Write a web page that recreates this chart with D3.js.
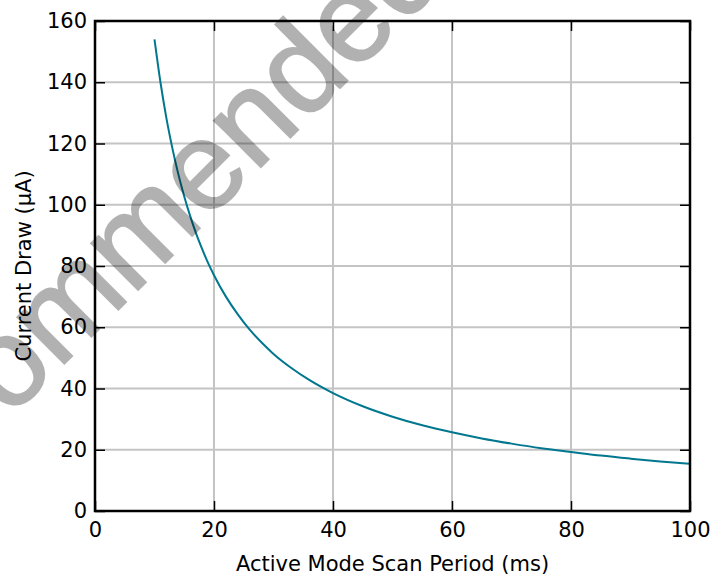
<!DOCTYPE html>
<html>
<head>
<meta charset="utf-8">
<script src="https://cdn.jsdelivr.net/npm/d3@7"></script>
<style>
  html, body { margin: 0; padding: 0; background: #fff; }
  svg { display: block; font-family: "DejaVu Sans", sans-serif; }
</style>
</head>
<body>
<svg id="chart" width="714" height="578"></svg>
<script>
// ---- data ----
const scanPeriod = [10, 11, 12, 13, 14, 15, 16, 17, 18, 19, 20, 22, 24, 26, 28, 30, 33, 36, 40, 45, 50, 55, 60, 65, 70, 75, 80, 85, 90, 95, 100];
const currentDraw = [154, 140, 128.3, 118.5, 110, 102.7, 96.3, 90.6, 85.6, 81, 77, 70, 64.2, 59.2, 55, 51.3, 46.7, 42.8, 38.5, 34.2, 30.8, 28, 25.7, 23.7, 22, 20.5, 19.3, 18.1, 17.1, 16.2, 15.4];
const xTicks = [0, 20, 40, 60, 80, 100];
const yTicks = [0, 20, 40, 60, 80, 100, 120, 140, 160];
const xLabel = "Active Mode Scan Period (ms)";
const yLabel = "Current Draw (µA)";
const watermark = "Recommended";

// ---- layout ----
const svg = d3.select("#chart");
const m = { left: 95, top: 21, right: 690, bottom: 511 };
const x = d3.scaleLinear().domain([0, 100]).range([m.left, m.right]);
const y = d3.scaleLinear().domain([0, 160]).range([m.bottom, m.top]);
const fs = "21px";

// grid
const grid = svg.append("g");
grid.selectAll(".gx").data(xTicks.filter(d => d > 0 && d < 100)).enter().append("line")
  .attr("x1", d => x(d)).attr("x2", d => x(d)).attr("y1", m.top).attr("y2", m.bottom)
  .attr("stroke", "#c4c4c4").attr("stroke-width", 2);
grid.selectAll(".gy").data(yTicks.filter(d => d > 0 && d < 160)).enter().append("line")
  .attr("y1", d => y(d)).attr("y2", d => y(d)).attr("x1", m.left).attr("x2", m.right)
  .attr("stroke", "#c4c4c4").attr("stroke-width", 2);

// curve
const pts = scanPeriod.map((d, i) => [d, currentDraw[i]]);
svg.append("path").datum(pts)
  .attr("fill", "none").attr("stroke", "#00778f").attr("stroke-width", 2)
  .attr("d", d3.line().x(d => x(d[0])).y(d => y(d[1])).curve(d3.curveMonotoneX));

// axes with inward ticks
const tickLen = 10;
const axB = svg.append("g").attr("transform", `translate(0,${m.bottom})`)
  .call(d3.axisBottom(x).tickValues(xTicks).tickSize(-tickLen).tickPadding(11).tickFormat(d3.format("d")));
const axT = svg.append("g").attr("transform", `translate(0,${m.top})`)
  .call(d3.axisTop(x).tickValues(xTicks).tickSize(-tickLen).tickFormat(""));
const axL = svg.append("g").attr("transform", `translate(${m.left},0)`)
  .call(d3.axisLeft(y).tickValues(yTicks).tickSize(-tickLen).tickPadding(8).tickFormat(d3.format("d")));
const axR = svg.append("g").attr("transform", `translate(${m.right},0)`)
  .call(d3.axisRight(y).tickValues(yTicks).tickSize(-tickLen).tickFormat(""));
[axB, axT, axL, axR].forEach(a => {
  a.select(".domain").remove();
  a.selectAll(".tick line").attr("stroke", "#000").attr("stroke-width", 1.5);
  a.selectAll("text").attr("fill", "#000").style("font-size", fs).style("font-family", "DejaVu Sans");
});

// frame
svg.append("rect").attr("x", m.left).attr("y", m.top)
  .attr("width", m.right - m.left).attr("height", m.bottom - m.top)
  .attr("fill", "none").attr("stroke", "#000").attr("stroke-width", 2.5);

// axis labels
svg.append("text").attr("x", (m.left + m.right) / 2).attr("y", 571)
  .attr("text-anchor", "middle").style("font-size", fs).text(xLabel);
svg.append("text").attr("transform", `translate(31,${(m.top + m.bottom) / 2}) rotate(-90)`)
  .attr("text-anchor", "middle").style("font-size", fs).text(yLabel);

// watermark
svg.append("text").attr("transform", "translate(-148,576) rotate(-45)")
  .attr("text-anchor", "start").style("font-size", "125px").style("font-family", "Liberation Sans")
  .attr("fill", "#000").attr("stroke", "#000").attr("stroke-width", 2)
  .attr("opacity", 0.3)
  .text(watermark);
</script>
</body>
</html>
